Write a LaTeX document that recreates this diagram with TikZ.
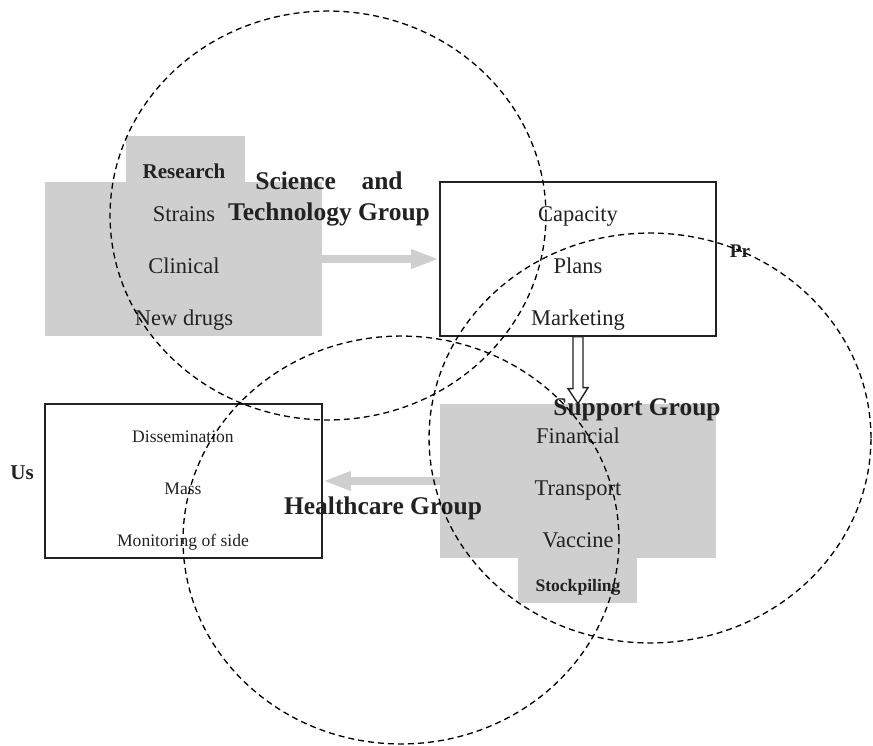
\documentclass[tikz,border=0pt]{standalone}
\usepackage{fontspec}
\setmainfont{Liberation Serif}
\usetikzlibrary{positioning,arrows.meta}
\definecolor{boxgray}{HTML}{CFCFCF}
\definecolor{ink}{HTML}{222222}

\begin{document}
\begin{tikzpicture}[x=0.02cm, y=-0.02cm, node distance=1.04cm,
        graybox/.style={fill=boxgray, inner sep=0pt, minimum width=5.54cm, minimum height=3.08cm},
        whitebox/.style={draw=ink, line width=0.8pt, fill=white, inner sep=0pt, minimum width=5.52cm, minimum height=3.08cm},
        tabbox/.style={fill=boxgray, inner sep=0pt, minimum width=2.38cm, minimum height=0.92cm},
        itemtext/.style={text=ink, font=\fontsize{12.8}{15}\selectfont, text height=9pt, text depth=3pt},
        smalltext/.style={text=ink, font=\fontsize{10}{12}\selectfont, text height=7pt, text depth=2.4pt},
        grouptext/.style={text=ink, font=\bfseries\fontsize{14.5}{18}\selectfont},
        boldtext/.style={text=ink, font=\bfseries\fontsize{12}{14}\selectfont},
        zone/.style={draw=black, line width=0.75pt, dash pattern=on 3.4pt off 2.3pt},
        grayarrow/.style={draw=boxgray, line width=5pt, -{Triangle[length=16pt, width=10pt]}},
        hollowarrow/.style={draw=ink, line width=0.8pt, fill=white}]
        \useasboundingbox (0,0) rectangle (873,745);

        % Boxes
        \node[graybox] (sci) at (183.5,259) {};
        \node[tabbox] (res) at (185.5,159) {};
        \node[whitebox] (prod) at (578,259) {};
        \node[graybox, minimum width=5.52cm] (sup) at (578,481) {};
        \node[tabbox, minimum height=0.9cm] (stock) at (577.5,580.5) {};
        \node[whitebox, minimum width=5.54cm] (hc) at (183.5,481) {};

        % Arrows
        \draw[grayarrow] (sci.east) -- (prod.west);
        \draw[grayarrow] (sup.west) -- (hc.east);
        \draw[hollowarrow] ([xshift=-0.1cm]prod.south) -- ++(0,52) -- ++(-5,0) -- (sup.north)
            -- ++(10,-16) -- ++(-5,0) -- ([xshift=0.1cm]prod.south) -- cycle;

        % Nodes
        \node[boldtext] (research) at (184,171) {Research};
        \node[itemtext] (strains) at (184,216) {Strains};
        \node[itemtext] (clinical) [below of=strains] {Clinical};
        \node[itemtext] (newdrugs) [below of=clinical] {New drugs};

        \node[itemtext] (capacity) at (578,216) {Capacity};
        \node[itemtext] (plans) [below of=capacity] {Plans};
        \node[itemtext] (marketing) [below of=plans] {Marketing};

        \node[itemtext] (financial) at (578,438) {Financial};
        \node[itemtext] (transport) [below of=financial] {Transport};
        \node[itemtext] (vaccine) [below of=transport] {Vaccine};
        \node[boldtext, font=\bfseries\fontsize{10}{12}\selectfont] (stockpiling) at (578,587) {Stockpiling};

        \node[smalltext] (dissem) at (183,438) {Dissemination};
        \node[smalltext] (mass) [below of=dissem] {Mass};
        \node[smalltext] (monitor) [below of=mass] {Monitoring of side};

        \node[grouptext, align=center] (scigroup) at (329,199) {Science\quad and\\Technology Group};
        \node[grouptext] (supgroup) at (637,410) {Support Group};
        \node[grouptext] (hcgroup) at (383,508) {Healthcare Group};
        \node[boldtext] (us) at (22,473) {Us};
        \node[boldtext, font=\bfseries\fontsize{11}{13}\selectfont] (pr) at (740,251) {Pr};

        % Zones
        \draw[zone] (328,215.5) ellipse [x radius=4.36cm, y radius=4.09cm];
        \draw[zone] (401,540) ellipse [x radius=4.36cm, y radius=4.08cm];
        \draw[zone] (650,438) ellipse [x radius=4.42cm, y radius=4.1cm];
\end{tikzpicture}
\end{document}
